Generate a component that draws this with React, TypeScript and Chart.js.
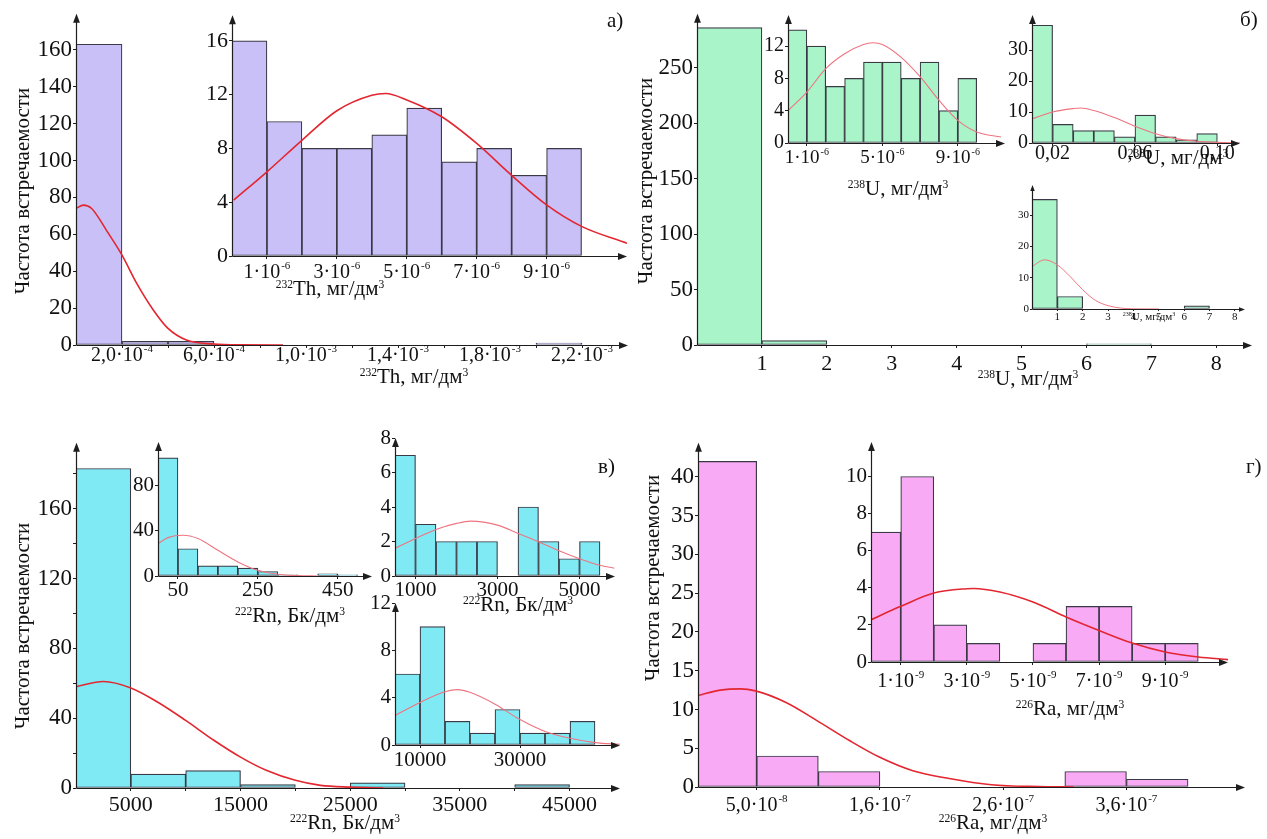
import React, { useEffect, useRef } from "react";
import { Chart, registerables } from "chart.js";

Chart.register(...registerables);

const SERIF = '"Liberation Serif", "Times New Roman", "DejaVu Serif", serif';
const BAR_EDGE = "#3a3a46";
const AXIS = "#1e1e1e";
const RED = "#e3262f";
const RED_LIGHT = "#ef7480";

// Tick labels: the part after "^" is drawn as a superscript exponent.

// ===== а) 232Th, main =====
const thBinStart = 0;
const thBinWidth = 2e-4;
const thCounts = [163, 2, 2, null, null, null, null, null, null, null, 1];
const thCurveX = [0, 0.32e-4, 0.68e-4, 1.33e-4, 2.0e-4, 2.64e-4, 3.36e-4, 4.0e-4, 4.8e-4, 6.0e-4, 7.1e-4, 9e-4];
const thCurveY = [74, 75.8, 74, 62, 48.7, 33.4, 19, 9, 2.7, 0.5, 0.05, 0];
const thXTicks = [2e-4, 4e-4, 6e-4, 8e-4, 1e-3, 1.2e-3, 1.4e-3, 1.6e-3, 1.8e-3, 2.0e-3, 2.2e-3];
const thXLabels = ["2,0·10^-4", "", "6,0·10^-4", "", "1,0·10^-3", "", "1,4·10^-3", "", "1,8·10^-3", "", "2,2·10^-3"];
const thYTicks = [0, 20, 40, 60, 80, 100, 120, 140, 160];
const thYLabels = ["0", "20", "40", "60", "80", "100", "120", "140", "160"];

// ===== а) 232Th, inset =====
const thInBinStart = 0;
const thInBinWidth = 1e-6;
const thInCounts = [16, 10, 8, 8, 9, 11, 7, 8, 6, 8];
const thInCurveX = [0.05e-6, 1e-6, 2e-6, 3e-6, 4e-6, 4.4e-6, 5e-6, 6e-6, 7e-6, 8e-6, 9e-6, 10e-6, 11.3e-6];
const thInCurveY = [4.16, 6.26, 8.6, 10.8, 11.95, 12.08, 11.6, 10.35, 8.37, 6.0, 3.8, 2.2, 0.94];
const thInXTicks = [1e-6, 3e-6, 5e-6, 7e-6, 9e-6];
const thInXLabels = ["1·10^-6", "3·10^-6", "5·10^-6", "7·10^-6", "9·10^-6"];
const thInYTicks = [0, 4, 8, 12, 16];
const thInYLabels = ["0", "4", "8", "12", "16"];

// ===== б) 238U, main =====
const uBinStart = 0;
const uBinWidth = 1;
const uCounts = [286, 4, null, null, null, null, 1];
const uXTicks = [1, 2, 3, 4, 5, 6, 7, 8];
const uXLabels = ["1", "2", "3", "4", "5", "6", "7", "8"];
const uYTicks = [0, 50, 100, 150, 200, 250];
const uYLabels = ["0", "50", "100", "150", "200", "250"];

// ===== б) 238U, inset 1 =====
const u1BinStart = 0;
const u1BinWidth = 1e-6;
const u1Counts = [14, 12, 7, 8, 10, 10, 8, 10, 4, 8];
const u1CurveX = [0, 1e-6, 2e-6, 3e-6, 4e-6, 4.5e-6, 5e-6, 6e-6, 7e-6, 8e-6, 9e-6, 10e-6, 11.3e-6];
const u1CurveY = [4.0, 6.3, 9.2, 11.05, 12.2, 12.4, 12.2, 10.6, 8.2, 5.3, 2.8, 1.36, 0.74];
const u1XTicks = [1e-6, 5e-6, 9e-6];
const u1XLabels = ["1·10^-6", "5·10^-6", "9·10^-6"];
const u1YTicks = [0, 4, 8, 12];
const u1YLabels = ["0", "4", "8", "12"];

// ===== б) 238U, inset 2 =====
const u2BinStart = 0.01;
const u2BinWidth = 0.01;
const u2Counts = [38, 6, 4, 4, 2, 9, 2, 1, 3];
const u2CurveX = [0.01, 0.02, 0.03, 0.0335, 0.04, 0.05, 0.06, 0.07, 0.08, 0.09, 0.1, 0.111];
const u2CurveY = [7.8, 10, 11.1, 11.3, 10.5, 8.2, 5.4, 3.0, 1.4, 0.54, 0.2, 0.05];
const u2XTicks = [0.02, 0.06, 0.1];
const u2XLabels = ["0,02", "0,06", "0,10"];
const u2YTicks = [0, 10, 20, 30];
const u2YLabels = ["0", "10", "20", "30"];

// ===== б) 238U, inset 3 =====
const u3BinStart = 0;
const u3BinWidth = 1;
const u3Counts = [35, 4, null, null, null, null, 1];
const u3CurveX = [0, 0.5, 1, 1.5, 2, 2.5, 3, 3.5, 4, 5];
const u3CurveY = [13.6, 15.7, 14.1, 10.4, 6.15, 2.76, 1.06, 0.3, 0.05, 0];
const u3XTicks = [1, 2, 3, 4, 5, 6, 7, 8];
const u3XLabels = ["1", "2", "3", "4", "5", "6", "7", "8"];
const u3YTicks = [0, 10, 20, 30];
const u3YLabels = ["0", "10", "20", "30"];

// ===== в) 222Rn, main =====
const rnBinStart = 0;
const rnBinWidth = 5000;
const rnCounts = [183, 8, 10, 2, null, 3, null, null, 2];
const rnCurveX = [0, 2500, 5000, 7500, 10000, 12600, 15000, 17400, 20000, 22300, 25000, 28000];
const rnCurveY = [58, 61, 57.3, 49, 38.7, 27.2, 17.7, 10, 4.4, 1.5, 0.5, 0];
const rnXTicks = [5000, 10000, 15000, 20000, 25000, 30000, 35000, 40000, 45000];
const rnXLabels = ["5000", "", "15000", "", "25000", "", "35000", "", "45000"];
const rnYTicks = [0, 20, 40, 60, 80, 100, 120, 140, 160, 180];
const rnYLabels = ["0", "", "40", "", "80", "", "120", "", "160", ""];

// ===== в) 222Rn, inset 1 =====
const rn1BinStart = 0;
const rn1BinWidth = 50;
const rn1Counts = [104, 24, 9, 9, 7, 4, 1, null, 2, 1];
const rn1CurveX = [0, 25, 62.5, 100, 150, 200, 250, 300, 350, 400];
const rn1CurveY = [28.5, 33.8, 35.9, 33, 22.6, 12.4, 5, 1.5, 0.3, 0];
const rn1XTicks = [50, 250, 450];
const rn1XLabels = ["50", "250", "450"];
const rn1YTicks = [0, 40, 80];
const rn1YLabels = ["0", "40", "80"];

// ===== в) 222Rn, inset 2 =====
const rn2BinStart = 500;
const rn2BinWidth = 500;
const rn2Counts = [7, 3, 2, 2, 2, null, 4, 2, 1, 2];
const rn2CurveX = [500, 1000, 1500, 2000, 2350, 3000, 3500, 4000, 4500, 5000, 5500, 5850];
const rn2CurveY = [1.6, 2.17, 2.7, 3.05, 3.18, 2.95, 2.47, 1.98, 1.46, 1.0, 0.62, 0.45];
const rn2XTicks = [1000, 3000, 5000];
const rn2XLabels = ["1000", "3000", "5000"];
const rn2YTicks = [0, 2, 4, 6, 8];
const rn2YLabels = ["0", "2", "4", "6", "8"];

// ===== в) 222Rn, inset 3 =====
const rn3BinStart = 5000;
const rn3BinWidth = 5000;
const rn3Counts = [6, 10, 2, 1, 3, 1, 1, 2];
const rn3CurveX = [5000, 10000, 15000, 17500, 20000, 25000, 30000, 35000, 40000, 45000, 50000];
const rn3CurveY = [2.5, 3.6, 4.5, 4.68, 4.45, 3.45, 2.15, 1.15, 0.57, 0.2, 0.06];
const rn3XTicks = [10000, 30000];
const rn3XLabels = ["10000", "30000"];
const rn3YTicks = [0, 4, 8, 12];
const rn3YLabels = ["0", "4", "8", "12"];

// ===== г) 226Ra, main =====
const raBinStart = -2.5e-9;
const raBinWidth = 5.25e-8;
const raCounts = [42, 4, 2, null, null, null, 2, 1];
const raCurveX = [0, 1.9e-8, 3.6e-8, 4.9e-8, 7.5e-8, 1.01e-7, 1.29e-7, 1.54e-7, 1.83e-7, 2.14e-7, 2.5e-7, 2.9e-7, 3.2e-7];
const raCurveY = [11.8, 12.5, 12.66, 12.4, 10.9, 8.6, 6, 3.9, 2.1, 1.1, 0.3, 0.05, 0];
const raXTicks = [5e-8, 1.55e-7, 2.6e-7, 3.65e-7];
const raXLabels = ["5,0·10^-8", "1,6·10^-7", "2,6·10^-7", "3,6·10^-7"];
const raYTicks = [0, 5, 10, 15, 20, 25, 30, 35, 40];
const raYLabels = ["0", "5", "10", "15", "20", "25", "30", "35", "40"];

// ===== г) 226Ra, inset =====
const ra1BinStart = 0;
const ra1BinWidth = 1e-9;
const ra1Counts = [7, 10, 2, 1, null, 1, 3, 3, 1, 1];
const ra1CurveX = [0.1e-9, 1e-9, 2e-9, 3e-9, 3.2e-9, 4e-9, 5e-9, 6e-9, 7e-9, 8e-9, 9e-9, 10e-9, 10.9e-9];
const ra1CurveY = [2.28, 3.0, 3.72, 3.95, 3.96, 3.77, 3.23, 2.43, 1.7, 1.02, 0.54, 0.27, 0.13];
const ra1XTicks = [1e-9, 3e-9, 5e-9, 7e-9, 9e-9];
const ra1XLabels = ["1·10^-9", "3·10^-9", "5·10^-9", "7·10^-9", "9·10^-9"];
const ra1YTicks = [0, 2, 4, 6, 8, 10];
const ra1YLabels = ["0", "2", "4", "6", "8", "10"];

type Spec = {
  ox: number; oy: number; ex: number; ey: number;
  xMin: number; xMax: number; yMax: number;
  binStart: number; binWidth: number; counts: (number | null)[];
  curveX?: number[]; curveY?: number[];
  xTicks: number[]; xLabels: string[]; yTicks: number[]; yLabels: string[];
  fill: string; curveColor?: string; curveWidth?: number;
  yFont: number; xFont: number; xDy: number;
  yAxisW?: number; xAxisH?: number; padT?: number; padR?: number;
  arrow?: number; tickLen?: number;
};

function Hist({ s }: { s: Spec }) {
  const ref = useRef<HTMLCanvasElement>(null);
  const yAxisW = s.yAxisW ?? 60;
  const xAxisH = s.xAxisH ?? 34;
  const padT = s.padT ?? 14;
  const padR = s.padR ?? 30;
  const w = yAxisW + (s.ex - s.ox) + padR;
  const h = padT + (s.oy - s.ey) + xAxisH;
  const arrow = s.arrow ?? 9;
  const tl = s.tickLen ?? 3;

  useEffect(() => {
    const bars = s.counts.map((c, i) => ({ x: s.binStart + (i + 0.5) * s.binWidth, y: c }));
    const datasets: any[] = [
      {
        type: "bar",
        data: bars,
        backgroundColor: s.fill,
        borderColor: BAR_EDGE,
        borderWidth: 1.2,
        borderSkipped: false,
        barPercentage: 1,
        categoryPercentage: 1,
        order: 2,
      },
    ];
    if (s.curveX && s.curveY) {
      datasets.push({
        type: "line",
        data: s.curveX.map((x, i) => ({ x, y: s.curveY![i] })),
        borderColor: s.curveColor ?? RED,
        borderWidth: s.curveWidth ?? 1.6,
        pointRadius: 0,
        cubicInterpolationMode: "monotone",
        fill: false,
        order: 1,
      });
    }
    const axisPlugin = {
      id: "axisArrows",
      afterDatasetsDraw(chart: any) {
        const { ctx, chartArea } = chart;
        const { left, right, top, bottom } = chartArea;
        const L = Math.round(left) + 0.5;
        const B = Math.round(bottom) + 0.5;
        ctx.save();
        ctx.strokeStyle = AXIS;
        ctx.fillStyle = AXIS;
        ctx.lineWidth = 1.2;
        ctx.beginPath();
        ctx.moveTo(L, B);
        ctx.lineTo(right - arrow * 0.6, B);
        ctx.moveTo(L, B);
        ctx.lineTo(L, top + arrow * 0.6);
        ctx.stroke();
        const hw = arrow * 0.38;
        ctx.beginPath();
        ctx.moveTo(right, B);
        ctx.lineTo(right - arrow, B - hw);
        ctx.lineTo(right - arrow, B + hw);
        ctx.closePath();
        ctx.fill();
        ctx.beginPath();
        ctx.moveTo(L, top);
        ctx.lineTo(L - hw, top + arrow);
        ctx.lineTo(L + hw, top + arrow);
        ctx.closePath();
        ctx.fill();

        // x tick labels with superscript exponents
        const xs = chart.scales.x;
        const F = s.xFont;
        const Fe = Math.round(F * 0.55);
        const baseFont = `${F}px ${SERIF}`;
        const expFont = `${Fe}px ${SERIF}`;
        ctx.fillStyle = "#111";
        ctx.textAlign = "left";
        ctx.textBaseline = "alphabetic";
        s.xTicks.forEach((v, i) => {
          const lab = s.xLabels[i];
          if (!lab) return;
          const parts = lab.split("^");
          const base = parts[0];
          const exp = parts[1];
          ctx.font = baseFont;
          const wb = ctx.measureText(base).width;
          let we = 0;
          if (exp) {
            ctx.font = expFont;
            we = ctx.measureText(exp).width + 1;
          }
          const px = xs.getPixelForValue(v);
          const x0 = px - (wb + we) / 2;
          const yb = B + s.xDy;
          ctx.font = baseFont;
          ctx.fillText(base, x0, yb);
          if (exp) {
            ctx.font = expFont;
            ctx.fillText(exp, x0 + wb + 1, yb - F * 0.42);
          }
        });
        ctx.restore();
      },
    };
    const chart = new Chart(ref.current as HTMLCanvasElement, {
      type: "bar",
      data: { datasets },
      options: {
        animation: false,
        responsive: false,
        devicePixelRatio: 1,
        layout: { padding: { top: padT, right: padR, left: 0, bottom: 0 } },
        plugins: { legend: { display: false }, tooltip: { enabled: false } },
        scales: {
          x: {
            type: "linear",
            min: s.xMin,
            max: s.xMax,
            offset: false,
            grid: { display: true, drawOnChartArea: false, tickLength: tl, color: AXIS, offset: false },
            border: { display: false },
            afterBuildTicks: (sc: any) => {
              sc.ticks = s.xTicks.map((v) => ({ value: v }));
            },
            afterFit: (sc: any) => {
              sc.height = xAxisH;
            },
            ticks: {
              autoSkip: false,
              maxRotation: 0,
              minRotation: 0,
              padding: 0,
              font: { family: SERIF, size: s.xFont },
              callback: () => "",
            },
          },
          y: {
            type: "linear",
            min: 0,
            max: s.yMax,
            grid: { display: true, drawOnChartArea: false, tickLength: tl, color: AXIS },
            border: { display: false },
            afterBuildTicks: (sc: any) => {
              sc.ticks = s.yTicks.map((v) => ({ value: v }));
            },
            afterFit: (sc: any) => {
              sc.width = yAxisW;
            },
            ticks: {
              autoSkip: false,
              padding: 1,
              color: "#111",
              font: { family: SERIF, size: s.yFont },
              callback: (_v: any, i: number) => s.yLabels[i] ?? "",
            },
          },
        },
      } as any,
      plugins: [axisPlugin],
    } as any);
    return () => chart.destroy();
  }, []);

  return (
    <canvas
      ref={ref}
      width={w}
      height={h}
      style={{ position: "absolute", left: s.ox - yAxisW, top: s.ey - padT, width: w, height: h }}
    />
  );
}

const FILL_A = "#c9c0f8";
const FILL_B = "#a9f4c9";
const FILL_C = "#80eaf4";
const FILL_D = "#f8aaf5";

const specs: Spec[] = [
  // а) main
  {
    ox: 76, oy: 345, ex: 628, ey: 13, xMin: 0, xMax: 2.4e-3, yMax: 179.5,
    binStart: thBinStart, binWidth: thBinWidth, counts: thCounts, curveX: thCurveX, curveY: thCurveY,
    xTicks: thXTicks, xLabels: thXLabels, yTicks: thYTicks, yLabels: thYLabels,
    fill: FILL_A, yFont: 23, xFont: 20, xDy: 15, padR: 20,
  },
  // а) inset
  {
    ox: 232, oy: 256, ex: 627, ey: 15, xMin: 0, xMax: 11.3e-6, yMax: 17.9,
    binStart: thInBinStart, binWidth: thInBinWidth, counts: thInCounts, curveX: thInCurveX, curveY: thInCurveY,
    xTicks: thInXTicks, xLabels: thInXLabels, yTicks: thInYTicks, yLabels: thInYLabels,
    fill: FILL_A, yFont: 22, xFont: 20, xDy: 21, yAxisW: 40, padR: 20,
  },
  // б) main
  {
    ox: 697, oy: 345, ex: 1252, ey: 13, xMin: 0, xMax: 8.55, yMax: 298.5,
    binStart: uBinStart, binWidth: uBinWidth, counts: uCounts,
    xTicks: uXTicks, xLabels: uXLabels, yTicks: uYTicks, yLabels: uYLabels,
    fill: FILL_B, yFont: 23, xFont: 22, xDy: 24, padR: 12,
  },
  // б) inset 1
  {
    ox: 788, oy: 143, ex: 1005, ey: 15, xMin: 0, xMax: 11.5e-6, yMax: 15.84,
    binStart: u1BinStart, binWidth: u1BinWidth, counts: u1Counts, curveX: u1CurveX, curveY: u1CurveY,
    xTicks: u1XTicks, xLabels: u1XLabels, yTicks: u1YTicks, yLabels: u1YLabels,
    fill: FILL_B, yFont: 20, xFont: 19, xDy: 19, yAxisW: 30, padR: 16, curveColor: RED_LIGHT, curveWidth: 1.1,
  },
  // б) inset 2
  {
    ox: 1032, oy: 143, ex: 1240, ey: 15, xMin: 0.01, xMax: 0.111, yMax: 41.3,
    binStart: u2BinStart, binWidth: u2BinWidth, counts: u2Counts, curveX: u2CurveX, curveY: u2CurveY,
    xTicks: u2XTicks, xLabels: u2XLabels, yTicks: u2YTicks, yLabels: u2YLabels,
    fill: FILL_B, yFont: 20, xFont: 20, xDy: 15, yAxisW: 30, padR: 20, curveColor: RED_LIGHT, curveWidth: 1.1,
  },
  // б) inset 3
  {
    ox: 1032, oy: 309, ex: 1245, ey: 185, xMin: 0, xMax: 8.4, yMax: 39.6,
    binStart: u3BinStart, binWidth: u3BinWidth, counts: u3Counts, curveX: u3CurveX, curveY: u3CurveY,
    xTicks: u3XTicks, xLabels: u3XLabels, yTicks: u3YTicks, yLabels: u3YLabels,
    fill: FILL_B, yFont: 11, xFont: 11, xDy: 10, yAxisW: 20, xAxisH: 16, padT: 8, padR: 12,
    curveColor: RED_LIGHT, curveWidth: 1, arrow: 6, tickLen: 2,
  },
  // в) main
  {
    ox: 76, oy: 788, ex: 620, ey: 442, xMin: 0, xMax: 49600, yMax: 197.7,
    binStart: rnBinStart, binWidth: rnBinWidth, counts: rnCounts, curveX: rnCurveX, curveY: rnCurveY,
    xTicks: rnXTicks, xLabels: rnXLabels, yTicks: rnYTicks, yLabels: rnYLabels,
    fill: FILL_C, yFont: 23, xFont: 22, xDy: 22, padR: 20,
  },
  // в) inset 1
  {
    ox: 158, oy: 576, ex: 372, ey: 442, xMin: 0, xMax: 536, yMax: 118,
    binStart: rn1BinStart, binWidth: rn1BinWidth, counts: rn1Counts, curveX: rn1CurveX, curveY: rn1CurveY,
    xTicks: rn1XTicks, xLabels: rn1XLabels, yTicks: rn1YTicks, yLabels: rn1YLabels,
    fill: FILL_C, yFont: 21, xFont: 21, xDy: 19, yAxisW: 32, padR: 16, curveColor: RED_LIGHT, curveWidth: 1.1,
  },
  // в) inset 2
  {
    ox: 395, oy: 576, ex: 615, ey: 438, xMin: 500, xMax: 5866, yMax: 8,
    binStart: rn2BinStart, binWidth: rn2BinWidth, counts: rn2Counts, curveX: rn2CurveX, curveY: rn2CurveY,
    xTicks: rn2XTicks, xLabels: rn2XLabels, yTicks: rn2YTicks, yLabels: rn2YLabels,
    fill: FILL_C, yFont: 21, xFont: 21, xDy: 19, yAxisW: 22, padR: 20, curveColor: RED_LIGHT, curveWidth: 1.1,
  },
  // в) inset 3
  {
    ox: 395, oy: 745, ex: 620, ey: 603, xMin: 5000, xMax: 50000, yMax: 12,
    binStart: rn3BinStart, binWidth: rn3BinWidth, counts: rn3Counts, curveX: rn3CurveX, curveY: rn3CurveY,
    xTicks: rn3XTicks, xLabels: rn3XLabels, yTicks: rn3YTicks, yLabels: rn3YLabels,
    fill: FILL_C, yFont: 21, xFont: 21, xDy: 20, yAxisW: 32, padR: 20, curveColor: RED_LIGHT, curveWidth: 1.1,
  },
  // г) main
  {
    ox: 698, oy: 787, ex: 1245, ey: 442, xMin: 0, xMax: 4.66e-7, yMax: 44.4,
    binStart: raBinStart, binWidth: raBinWidth, counts: raCounts, curveX: raCurveX, curveY: raCurveY,
    xTicks: raXTicks, xLabels: raXLabels, yTicks: raYTicks, yLabels: raYLabels,
    fill: FILL_D, yFont: 23, xFont: 20, xDy: 23, padR: 20,
  },
  // г) inset
  {
    ox: 871, oy: 662, ex: 1228, ey: 442, xMin: 0.1e-9, xMax: 10.9e-9, yMax: 11.86,
    binStart: ra1BinStart, binWidth: ra1BinWidth, counts: ra1Counts, curveX: ra1CurveX, curveY: ra1CurveY,
    xTicks: ra1XTicks, xLabels: ra1XLabels, yTicks: ra1YTicks, yLabels: ra1YLabels,
    fill: FILL_D, yFont: 21, xFont: 20, xDy: 24, yAxisW: 34, padR: 20,
  },
];

const supStyle: React.CSSProperties = { fontSize: "0.55em", verticalAlign: "0.65em" };

function AxisTitle({ cx, top, size, iso, sym, unit }: { cx: number; top: number; size: number; iso: string; sym: string; unit: string }) {
  return (
    <div
      style={{
        position: "absolute",
        left: cx,
        top,
        transform: "translateX(-50%)",
        fontFamily: SERIF,
        fontSize: size,
        lineHeight: 1,
        whiteSpace: "nowrap",
        color: "#111",
      }}
    >
      <span style={supStyle}>{iso}</span>
      {sym}, {unit}
      <span style={supStyle}>3</span>
    </div>
  );
}

function YTitle({ cx, cy }: { cx: number; cy: number }) {
  return (
    <div
      style={{
        position: "absolute",
        left: cx,
        top: cy,
        transform: "translate(-50%, -50%) rotate(-90deg)",
        fontFamily: SERIF,
        fontSize: 21,
        lineHeight: 1,
        whiteSpace: "nowrap",
        color: "#111",
      }}
    >
      Частота встречаемости
    </div>
  );
}

function PanelLabel({ left, top, text }: { left: number; top: number; text: string }) {
  return (
    <div style={{ position: "absolute", left, top, fontFamily: SERIF, fontSize: 21, lineHeight: 1, color: "#111" }}>
      {text}
    </div>
  );
}

export default function App() {
  return (
    <div
      style={{
        position: "absolute",
        left: 0,
        top: 0,
        width: 1267,
        height: 839,
        overflow: "hidden",
        background: "#fff",
      }}
    >
      {specs.map((s, i) => (
        <Hist key={i} s={s} />
      ))}
      <YTitle cx={22} cy={191} />
      <YTitle cx={645} cy={181} />
      <YTitle cx={22} cy={626} />
      <YTitle cx={652} cy={578} />

      <AxisTitle cx={414} top={366} size={21} iso="232" sym="Th" unit="мг/дм" />
      <AxisTitle cx={330} top={278} size={21} iso="232" sym="Th" unit="мг/дм" />
      <AxisTitle cx={1028} top={368} size={21} iso="238" sym="U" unit="мг/дм" />
      <AxisTitle cx={898} top={178} size={21} iso="238" sym="U" unit="мг/дм" />
      <AxisTitle cx={1178} top={147} size={21} iso="238" sym="U" unit="мг/дм" />
      <AxisTitle cx={1149} top={311} size={11} iso="238" sym="U" unit="мг/дм" />
      <AxisTitle cx={345} top={812} size={21} iso="222" sym="Rn" unit="Бк/дм" />
      <AxisTitle cx={290} top={605} size={21} iso="222" sym="Rn" unit="Бк/дм" />
      <AxisTitle cx={518} top={594} size={21} iso="222" sym="Rn" unit="Бк/дм" />
      <AxisTitle cx={993} top={812} size={21} iso="226" sym="Ra" unit="мг/дм" />
      <AxisTitle cx={1070} top={698} size={21} iso="226" sym="Ra" unit="мг/дм" />

      <PanelLabel left={607} top={10} text="а)" />
      <PanelLabel left={1240} top={9} text="б)" />
      <PanelLabel left={598} top={456} text="в)" />
      <PanelLabel left={1246} top={456} text="г)" />
    </div>
  );
}
